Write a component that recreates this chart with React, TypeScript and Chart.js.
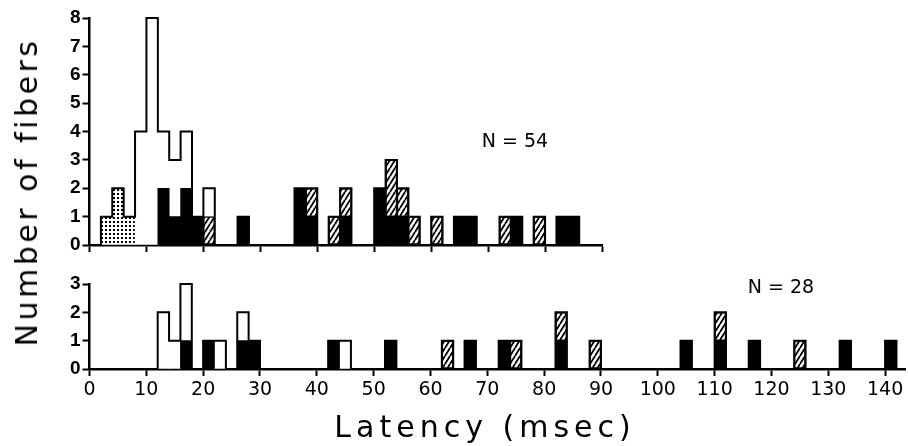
import React, { useEffect, useRef } from "react";
import { Chart, registerables } from "chart.js";

Chart.register(...registerables);

// Histogram bins are 2 msec wide; each entry is [bin start (msec), number of fibers]
const BIN_WIDTH = 2;

// Upper panel (N = 54)
const topStippled: [number, number][] = [[2, 1], [4, 2], [6, 1]];
const topOpen: [number, number][] = [[8, 4], [10, 8], [12, 2], [14, 2], [16, 2], [20, 1]];
const topBlack: [number, number][] = [
  [12, 2], [14, 1], [16, 2], [18, 1], [26, 1], [36, 2], [38, 1], [44, 1],
  [50, 2], [52, 1], [54, 1], [64, 1], [66, 1], [74, 1], [82, 1], [84, 1],
];
const topHatched: [number, number][] = [
  [20, 1], [38, 1], [42, 1], [44, 1], [52, 2], [54, 1], [56, 1], [60, 1], [72, 1], [78, 1],
];

// Lower panel (N = 28)
const bottomOpen: [number, number][] = [[12, 2], [14, 1], [16, 2], [22, 1], [26, 1], [44, 1]];
const bottomBlack: [number, number][] = [
  [16, 1], [20, 1], [26, 1], [28, 1], [42, 1], [52, 1], [66, 1], [72, 1], [82, 1],
  [104, 1], [110, 1], [116, 1], [132, 1], [140, 1],
];
const bottomHatched: [number, number][] = [[62, 1], [74, 1], [82, 1], [88, 1], [110, 1], [124, 1]];

// Tick labels
const topXTicks = [0, 10, 20, 30, 40, 50, 60, 70, 80, 90];
const bottomXTicks = [0, 10, 20, 30, 40, 50, 60, 70, 80, 90, 100, 110, 120, 130, 140];
const topYTicks = [0, 1, 2, 3, 4, 5, 6, 7, 8];
const bottomYTicks = [0, 1, 2, 3];

const topLabel = "N = 54";
const bottomLabel = "N = 28";
const xTitle = "Latency (msec)";
const yTitle = "Number of fibers";

const TICK_FONT = "'DejaVu Sans', sans-serif";
const Y_TICK_FONT = "'Liberation Sans', Arial, sans-serif";

function makeHatch(): CanvasPattern | string {
  const c = document.createElement("canvas");
  const w = 5, h = 8;
  c.width = w; c.height = h;
  const g = c.getContext("2d");
  if (!g) return "#fff";
  g.fillStyle = "#fff";
  g.fillRect(0, 0, w, h);
  g.strokeStyle = "#000";
  g.lineWidth = 1.8;
  g.beginPath();
  for (const dx of [-w, 0, w]) {
    g.moveTo(dx, h);
    g.lineTo(dx + w, 0);
  }
  g.stroke();
  return g.createPattern(c, "repeat") || "#fff";
}

function makeStipple(): CanvasPattern | string {
  const c = document.createElement("canvas");
  c.width = 4; c.height = 4;
  const g = c.getContext("2d");
  if (!g) return "#fff";
  g.fillStyle = "#fff";
  g.fillRect(0, 0, 4, 4);
  g.fillStyle = "#000";
  g.fillRect(1, 1, 2, 2);
  return g.createPattern(c, "repeat") || "#fff";
}

const toPoints = (bins: [number, number][]) =>
  bins.map(([start, n]) => ({ x: start + BIN_WIDTH / 2, y: n }));

const outlinePlugin = {
  id: "stepOutline",
  afterDatasetsDraw(chart: any) {
    const totals = new Map<number, number>();
    chart.data.datasets.forEach((ds: any) =>
      ds.data.forEach((p: any) => totals.set(p.x, (totals.get(p.x) || 0) + p.y))
    );
    const xs = chart.scales.x;
    const ys = chart.scales.y;
    const ctx = chart.ctx as CanvasRenderingContext2D;
    const half = BIN_WIDTH / 2;
    ctx.save();
    ctx.strokeStyle = "#000";
    ctx.lineWidth = 2;
    ctx.lineCap = "square";
    ctx.beginPath();
    const keys = Array.from(totals.keys()).sort((a, b) => a - b);
    for (const c of keys) {
      const yp = ys.getPixelForValue(totals.get(c));
      ctx.moveTo(xs.getPixelForValue(c - half), yp);
      ctx.lineTo(xs.getPixelForValue(c + half), yp);
    }
    const edges = new Set<number>();
    keys.forEach((c) => { edges.add(c - half); edges.add(c + half); });
    edges.forEach((e) => {
      const l = totals.get(e - half) || 0;
      const r = totals.get(e + half) || 0;
      if (l === r) return;
      const xp = xs.getPixelForValue(e);
      ctx.moveTo(xp, ys.getPixelForValue(Math.min(l, r)));
      ctx.lineTo(xp, ys.getPixelForValue(Math.max(l, r)));
    });
    ctx.stroke();
    ctx.restore();
  },
};

function buildConfig(opts: {
  black: [number, number][];
  hatched: [number, number][];
  open: [number, number][];
  stippled: [number, number][];
  xMax: number;
  yMax: number;
  xTicks: number[];
  yTicks: number[];
  showXLabels: boolean;
  xHeight: number;
  padding: { left: number; right: number; top: number; bottom: number };
}): any {
  const hatch = makeHatch();
  const stipple = makeStipple();
  const common = {
    borderSkipped: false,
    categoryPercentage: 1,
    barPercentage: 1,
  };
  return {
    type: "bar",
    data: {
      datasets: [
        { ...common, data: toPoints(opts.black), backgroundColor: "#000", borderWidth: 0 },
        { ...common, data: toPoints(opts.hatched), backgroundColor: hatch, borderColor: "#000", borderWidth: 1.5 },
        { ...common, data: toPoints(opts.open), backgroundColor: "#fff", borderWidth: 0 },
        { ...common, data: toPoints(opts.stippled), backgroundColor: stipple, borderWidth: 0 },
      ],
    },
    options: {
      responsive: false,
      animation: false,
      events: [],
      layout: { padding: opts.padding },
      plugins: { legend: { display: false }, tooltip: { enabled: false }, title: { display: false } },
      scales: {
        x: {
          type: "linear",
          stacked: true,
          offset: false,
          min: 0,
          max: opts.xMax,
          afterBuildTicks: (s: any) => { s.ticks = opts.xTicks.map((v) => ({ value: v })); },
          afterFit: (s: any) => { s.height = opts.xHeight; },
          grid: { display: true, offset: false, drawOnChartArea: false, drawTicks: true, tickLength: 7, tickWidth: 2, color: "#000" },
          border: { display: true, color: "#000", width: 2.5 },
          ticks: {
            autoSkip: false,
            maxRotation: 0,
            padding: 3,
            color: "#000",
            font: { family: TICK_FONT, size: 19 },
            callback: (v: any) => (opts.showXLabels ? String(v) : ""),
          },
        },
        y: {
          stacked: true,
          min: 0,
          max: opts.yMax,
          afterBuildTicks: (s: any) => { s.ticks = opts.yTicks.map((v) => ({ value: v })); },
          afterFit: (s: any) => { s.width = 89.5; },
          grid: { display: true, drawOnChartArea: false, drawTicks: true, tickLength: 7, tickWidth: 2, color: "#000" },
          border: { display: true, color: "#000", width: 2.5 },
          ticks: {
            autoSkip: false,
            padding: 2,
            color: "#000",
            font: { family: Y_TICK_FONT, size: 19, weight: "bold" },
          },
        },
      },
    },
    plugins: [outlinePlugin],
  };
}

export default function App() {
  const topRef = useRef<HTMLCanvasElement>(null);
  const bottomRef = useRef<HTMLCanvasElement>(null);

  useEffect(() => {
    if (!topRef.current || !bottomRef.current) return;
    const top = new Chart(
      topRef.current,
      buildConfig({
        black: topBlack,
        hatched: topHatched,
        open: topOpen,
        stippled: topStippled,
        xMax: 90,
        yMax: 8,
        xTicks: topXTicks,
        yTicks: topYTicks,
        showXLabels: false,
        xHeight: 15,
        padding: { left: 0, right: 18, top: 18, bottom: 0 },
      })
    );
    const bottom = new Chart(
      bottomRef.current,
      buildConfig({
        black: bottomBlack,
        hatched: bottomHatched,
        open: bottomOpen,
        stippled: [],
        xMax: 143.5,
        yMax: 3,
        xTicks: bottomXTicks,
        yTicks: bottomYTicks,
        showXLabels: true,
        xHeight: 77,
        padding: { left: 0, right: 3, top: 24, bottom: 0 },
      })
    );
    return () => {
      top.destroy();
      bottom.destroy();
    };
  }, []);

  const textBase: React.CSSProperties = {
    position: "absolute",
    whiteSpace: "nowrap",
    color: "#000",
    fontFamily: TICK_FONT,
    lineHeight: 1,
  };

  return (
    <div style={{ position: "fixed", left: 0, top: 0, width: 908, height: 446, overflow: "hidden", background: "#fff" }}>
      <canvas ref={topRef} width={620} height={260} style={{ position: "absolute", left: 0, top: 0, width: 620, height: 260 }} />
      <canvas ref={bottomRef} width={908} height={186} style={{ position: "absolute", left: 0, top: 260, width: 908, height: 186 }} />
      <div style={{ ...textBase, left: 515, top: 140, fontSize: 19, transform: "translate(-50%, -50%)" }}>{topLabel}</div>
      <div style={{ ...textBase, left: 781, top: 286, fontSize: 19, transform: "translate(-50%, -50%)" }}>{bottomLabel}</div>
      <div style={{ ...textBase, left: 485, top: 427, fontSize: 30, letterSpacing: 5, transform: "translate(-50%, -50%)" }}>{xTitle}</div>
      <div style={{ ...textBase, left: 27, top: 192, fontSize: 30, letterSpacing: 3.5, transform: "translate(-50%, -50%) rotate(-90deg)" }}>{yTitle}</div>
    </div>
  );
}
